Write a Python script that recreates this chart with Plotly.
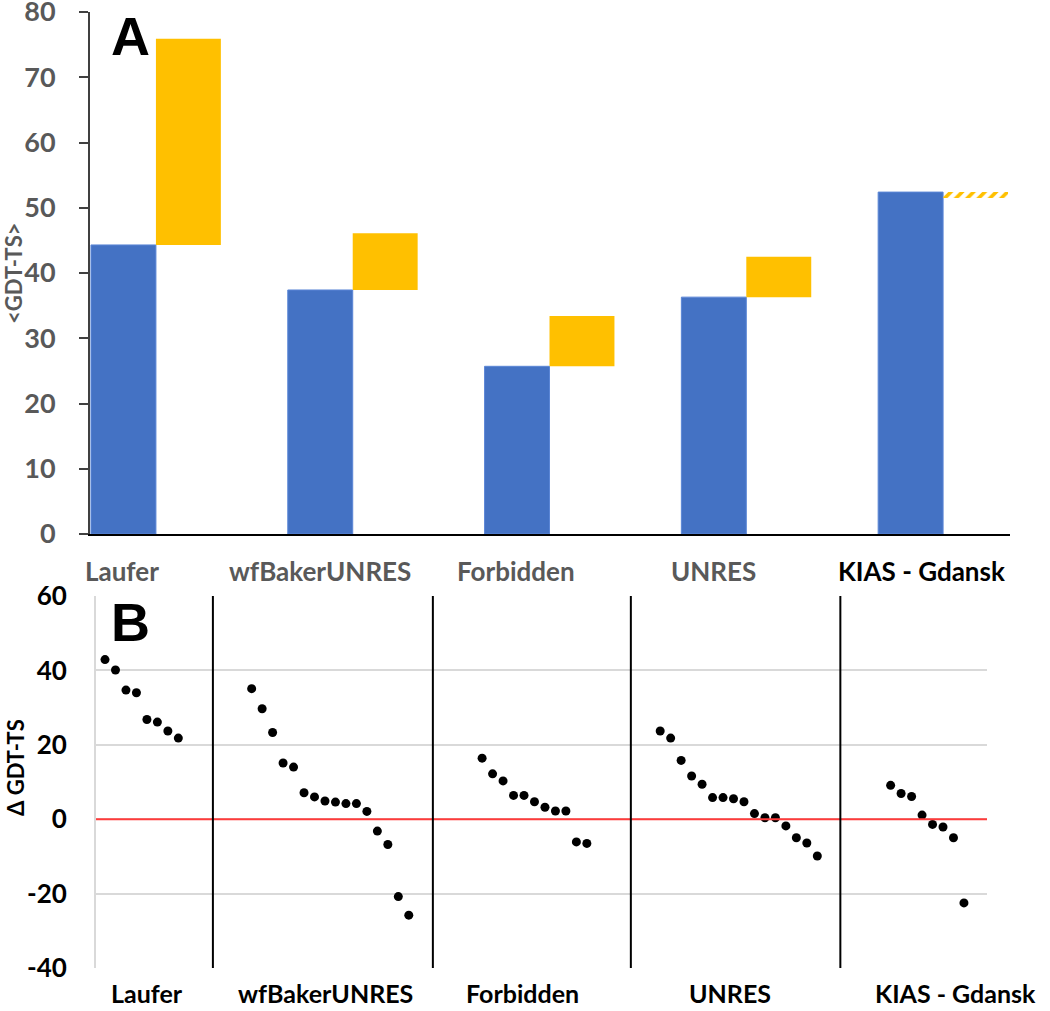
import numpy as np
import plotly.graph_objects as go

# panel A: mean GDT-TS and the gain on top of it
methods = ['Laufer', 'wfBakerUNRES', 'Forbidden', 'UNRES', 'KIAS - Gdansk']
mean_gdt = [44.3, 37.4, 25.7, 36.3, 52.4]
gain_gdt = [31.6, 8.7, 7.7, 6.2, -0.9]

# panel B: per-target delta GDT-TS, sorted within each group
delta_laufer = [42.9, 40.1, 34.7, 34.0, 26.8, 26.1, 23.7, 21.8]
delta_wfbaker = [35.1, 29.7, 23.3, 15.1, 14.0, 7.1, 6.0, 4.9, 4.6, 4.2, 4.2, 2.1,
                 -3.2, -6.8, -20.8, -25.8]
delta_forbidden = [16.4, 12.2, 10.3, 6.4, 6.4, 4.7, 3.2, 2.2, 2.2, -6.1, -6.5]
delta_unres = [23.7, 21.8, 15.8, 11.6, 9.4, 5.8, 5.8, 5.5, 4.7, 1.5, 0.4, 0.4,
               -1.8, -5.0, -6.4, -9.9]
delta_kias = [9.1, 6.9, 6.1, 1.1, -1.4, -2.1, -5.0, -22.5]
group_start = [0, 14, 36, 53, 75]
separators = [10.3, 31.3, 50.2, 70.2]
b_ticks = [-40, -20, 0, 20, 40, 60]

W, H = 1050, 1011
GREY = '#595959'
ORANGE = '#FFC000'
FONT = 'Lato'


def px(x):
    return x / W


def py(y):
    return 1 - y / H


fig = go.Figure()

# --- panel A ---
fig.add_trace(go.Bar(x=methods, y=mean_gdt, marker=dict(color='#4472C4', line=dict(color='#5b86d6', width=1)),
                     xaxis='x', yaxis='y', showlegend=False))
n = len(methods)
# last gain is negative -> drawn hatched like the original
fig.add_trace(go.Bar(x=methods, y=gain_gdt, base=mean_gdt,
                     marker=dict(color=ORANGE, line=dict(width=0),
                                 pattern=dict(shape=[''] * (n - 1) + ['/'], fillmode='replace',
                                              size=8, solidity=0.45)),
                     xaxis='x', yaxis='y', showlegend=False))

# --- panel B ---
groups = [delta_laufer, delta_wfbaker, delta_forbidden, delta_unres, delta_kias]
for start, vals in zip(group_start, groups):
    xs = start + np.arange(len(vals))
    fig.add_trace(go.Scatter(x=xs, y=vals, mode='markers',
                             marker=dict(color='black', size=9),
                             xaxis='x2', yaxis='y2', showlegend=False))

shapes = [dict(type='line', xref='x2 domain', yref='y2', x0=0, x1=1, y0=0, y1=0,
               line=dict(color='#ff3b3b', width=2))]
for s in separators:
    shapes.append(dict(type='line', xref='x2', yref='y2 domain', x0=s, x1=s, y0=0, y1=1,
                       line=dict(color='black', width=2)))


def label(text, x, y, size, color, angle=0, family=FONT):
    return dict(text=text, x=px(x), y=py(y), xref='paper', yref='paper', textangle=angle,
                showarrow=False, xanchor='center', yanchor='middle',
                font=dict(family=family, size=size, color=color, weight='bold'))


annotations = []
# category labels under panel A
top_lab_x = [122, 320, 516, 713, 922]
for name, x in zip(methods, top_lab_x):
    annotations.append(label(name, x, 571, 26, 'black' if name.startswith('KIAS') else GREY))
# category labels under panel B
bot_lab_x = [147, 325, 522, 730, 955]
for name, x in zip(methods, bot_lab_x):
    annotations.append(label(name, x, 993, 25, 'black'))
annotations += [
    label('&lt;GDT-TS&gt;', 13, 273, 22, GREY, angle=-90),
    label('Δ GDT-TS', 15, 768, 22, 'black', angle=-90),
    label('A', 130, 36, 54, 'black', family='Liberation Sans'),
    label('B', 130, 622, 54, 'black', family='Liberation Sans'),
]

fig.update_layout(
    width=W, height=H,
    margin=dict(l=0, r=0, t=0, b=0),
    paper_bgcolor='white', plot_bgcolor='white',
    barmode='group', bargap=0.34, bargroupgap=0,
    shapes=shapes, annotations=annotations,
    xaxis=dict(domain=[px(90), px(1010)], range=[-0.335, 4.34], showticklabels=False,
               showline=True, linecolor='black', linewidth=2, ticks='', showgrid=False,
               automargin=False),
    yaxis=dict(domain=[py(534), py(12)], range=[0, 80], dtick=10, showgrid=False,
               showline=True, linecolor='#404040', linewidth=2, ticks='outside', ticklen=9,
               tickcolor='#404040', tickwidth=2, zeroline=False, ticklabelstandoff=18,
               automargin=False, ticklabeloverflow='allow',
               tickfont=dict(family=FONT, size=27, color=GREY, weight='bold')),
    xaxis2=dict(domain=[px(96), px(987)], range=[-0.86, 84.2], showticklabels=False,
                showgrid=False, zeroline=False, anchor='y2', automargin=False),
    yaxis2=dict(domain=[py(968), py(596)], range=[-40, 60], anchor='x2',
                tickvals=b_ticks, ticktext=[str(v) for v in b_ticks],
                showgrid=True, gridcolor='#d9d9d9', gridwidth=2, zeroline=False,
                showline=True, linecolor='#d9d9d9', linewidth=2, ticks='', ticklabelstandoff=22,
                automargin=False, ticklabeloverflow='allow',
                tickfont=dict(family=FONT, size=26, color='black', weight='bold')),
)

fig.write_html('out.html', config={'displayModeBar': False},
               post_script="document.body.style.margin='0px';")
